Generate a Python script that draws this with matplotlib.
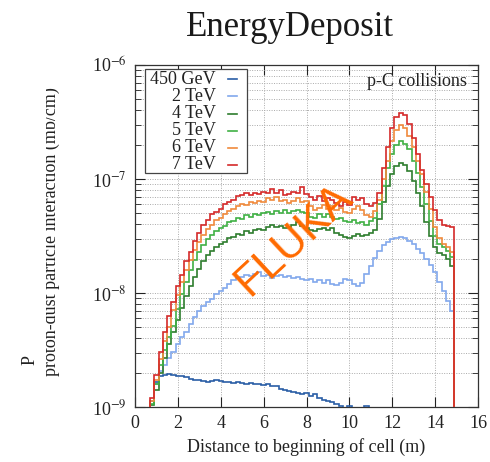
import numpy as np
import matplotlib
matplotlib.use("Agg")
import matplotlib.pyplot as plt
from matplotlib.patches import Rectangle
from matplotlib.lines import Line2D
from matplotlib.ticker import LogLocator, FixedLocator, NullFormatter

plt.rcParams["font.family"] = ["Liberation Serif", "DejaVu Serif"]
plt.rcParams["mathtext.fontset"] = "stix"

# Histogram binning along the cell (m)
bin_start = 0.7
bin_width = 0.2
n_bins = 71

beam_labels = ["450 GeV", "2 TeV", "4 TeV", "5 TeV", "6 TeV", "7 TeV"]
beam_colors = ["#2a5ea6", "#82a8ec", "#2e7d2e", "#3fb044", "#f08a3c", "#d42a2a"]

# log10 of interaction probability per bin
log_450gev = [
    -8.95, -8.78, -8.73, -8.72, -8.71, -8.72, -8.73, -8.73, -8.74, -8.75,
    -8.76, -8.76, -8.77, -8.78, -8.77, -8.76, -8.77, -8.78, -8.78, -8.79,
    -8.78, -8.79, -8.80, -8.79, -8.80, -8.80, -8.81, -8.80, -8.82, -8.82,
    -8.84, -8.85, -8.86, -8.87, -8.88, -8.89, -8.88, -8.90, -8.89, -8.92,
    -8.94, -8.95, -8.96, -8.97, -8.99, -9.01, -8.99, -9.02, -9.04, -9.01,
    -8.99, -9.10,
]
log_2tev = [
    -8.95, -8.80, -8.68, -8.63, -8.57, -8.52, -8.45, -8.39, -8.34, -8.27,
    -8.21, -8.16, -8.11, -8.08, -8.05, -8.01, -7.98, -7.96, -7.92, -7.89,
    -7.87, -7.86, -7.84, -7.85, -7.83, -7.82, -7.85, -7.84, -7.87, -7.85,
    -7.84, -7.86, -7.85, -7.87, -7.86, -7.88, -7.89, -7.88, -7.90, -7.89,
    -7.91, -7.89, -7.92, -7.93, -7.91, -7.88, -7.89, -7.92, -7.94, -7.91,
    -7.83, -7.76, -7.69, -7.63, -7.58, -7.55, -7.53, -7.52, -7.51, -7.52,
    -7.54, -7.57, -7.61, -7.65, -7.70, -7.75, -7.82, -7.90, -7.98, -8.07,
    -8.16,
]
log_4tev = [
    -8.98, -8.85, -8.70, -8.57, -8.45, -8.34, -8.24, -8.13, -8.03, -7.94,
    -7.86, -7.79, -7.72, -7.67, -7.63, -7.60, -7.57, -7.55, -7.52, -7.51,
    -7.48, -7.49, -7.46, -7.47, -7.45, -7.44, -7.45, -7.42, -7.40, -7.42,
    -7.41, -7.43, -7.42, -7.40, -7.38, -7.41, -7.43, -7.45, -7.46, -7.44,
    -7.43, -7.45, -7.43, -7.47, -7.49, -7.51, -7.52, -7.50, -7.48, -7.50,
    -7.49, -7.47, -7.45, -7.35, -7.20, -7.06, -6.96, -6.89, -6.86, -6.88,
    -6.93, -7.02, -7.12, -7.24, -7.38, -7.50, -7.60, -7.65, -7.67, -7.70,
    -7.76,
]
log_5tev = [
    -8.97, -8.80, -8.63, -8.50, -8.39, -8.29, -8.14, -8.01, -7.90, -7.80,
    -7.71, -7.64, -7.58, -7.53, -7.49, -7.46, -7.43, -7.41, -7.38, -7.37,
    -7.34, -7.35, -7.32, -7.33, -7.31, -7.32, -7.30, -7.29, -7.31, -7.28,
    -7.30, -7.27, -7.30, -7.28, -7.27, -7.29, -7.30, -7.33, -7.34, -7.31,
    -7.33, -7.31, -7.33, -7.35, -7.34, -7.37, -7.38, -7.36, -7.39, -7.38,
    -7.40, -7.37, -7.34, -7.22, -7.06, -6.90, -6.78, -6.70, -6.67, -6.69,
    -6.74, -6.84, -6.95, -7.07, -7.22, -7.37, -7.50, -7.57, -7.60, -7.63,
    -7.68,
]
log_6tev = [
    -8.95, -8.76, -8.58, -8.42, -8.30, -8.15, -8.02, -7.90, -7.80, -7.71,
    -7.62, -7.55, -7.49, -7.44, -7.40, -7.36, -7.34, -7.31, -7.28, -7.26,
    -7.24, -7.22, -7.23, -7.20, -7.21, -7.19, -7.20, -7.17, -7.18, -7.16,
    -7.19, -7.18, -7.21, -7.19, -7.17, -7.20, -7.19, -7.24, -7.27, -7.25,
    -7.23, -7.26, -7.24, -7.27, -7.25, -7.29, -7.30, -7.26, -7.24, -7.27,
    -7.32, -7.33, -7.28, -7.18, -7.00, -6.84, -6.67, -6.57, -6.53, -6.55,
    -6.62, -6.72, -6.84, -6.96, -7.11, -7.26, -7.42, -7.52, -7.57, -7.60,
    -7.64,
]
log_7tev = [
    -8.92, -8.72, -8.52, -8.34, -8.20, -8.08, -7.94, -7.84, -7.72, -7.64,
    -7.54, -7.47, -7.40, -7.36, -7.31, -7.29, -7.26, -7.22, -7.20, -7.18,
    -7.15, -7.14, -7.12, -7.14, -7.12, -7.13, -7.11, -7.12, -7.09, -7.12,
    -7.10, -7.14, -7.13, -7.11, -7.12, -7.07, -7.13, -7.16, -7.18, -7.15,
    -7.19, -7.17, -7.18, -7.21, -7.24, -7.20, -7.23, -7.16, -7.18, -7.17,
    -7.22, -7.24, -7.21, -7.12, -6.90, -6.72, -6.55, -6.46, -6.42, -6.44,
    -6.52, -6.64, -6.78, -6.92, -7.04, -7.16, -7.27, -7.36, -7.40, -7.41,
    -7.42,
]
series_logs = [log_450gev, log_2tev, log_4tev, log_5tev, log_6tev, log_7tev]

x_ticks = [0, 2, 4, 6, 8, 10, 12, 14, 16]
y_decades = [1e-9, 1e-8, 1e-7, 1e-6]

edges_all = np.round(bin_start + bin_width * np.arange(n_bins + 1), 3)

fig = plt.figure(figsize=(4.9, 4.62), dpi=100)
ax = fig.add_axes([135 / 490, 1 - 407 / 462, 343 / 490, 342 / 462])
ax.set_yscale("log")

for logs, color in zip(series_logs, beam_colors):
    vals = 10.0 ** np.asarray(logs)
    edges = edges_all[: len(vals) + 1]
    ax.stairs(vals, edges, baseline=1e-10, color=color, lw=1.2, zorder=3)

ax.set_xlim(0, 16)
ax.set_ylim(y_decades[0], y_decades[-1])
ax.xaxis.set_major_locator(FixedLocator(x_ticks))
ax.yaxis.set_major_locator(FixedLocator(y_decades))
ax.yaxis.set_minor_locator(LogLocator(base=10, subs=np.arange(2, 10)))
ax.yaxis.set_minor_formatter(NullFormatter())
ax.set_yticklabels([r"10$^{-%d}$" % int(-np.log10(v)) for v in y_decades])

ax.tick_params(which="both", direction="in", top=True, right=True,
               labelsize=13, colors="#222222")
ax.tick_params(which="major", length=7, width=0.8, pad=6)
ax.tick_params(which="minor", length=4, width=0.6)
for sp in ax.spines.values():
    sp.set_linewidth(0.9)
    sp.set_color("#333333")

ax.grid(True, which="major", axis="x", ls=(0, (1, 1.5)), color="#aaaaaa", lw=0.7)
ax.grid(True, which="both", axis="y", ls=(0, (1, 1.5)), color="#aaaaaa", lw=0.7)

ax.set_xlabel("Distance to beginning of cell (m)", fontsize=13, labelpad=4,
              color="#222222")

# legend box with right-aligned labels and sample lines on the right
ax.add_patch(Rectangle((0.029, 0.684), 0.298, 0.304, transform=ax.transAxes,
                       facecolor="white", edgecolor="#444444", lw=0.9, zorder=5))
for i, (lab, color) in enumerate(zip(beam_labels, beam_colors)):
    yy = 0.958 - i * 0.050
    ax.text(0.236, yy, lab, transform=ax.transAxes, ha="right", va="center",
            fontsize=13, color="#222222", zorder=6)
    ax.add_line(Line2D([0.270, 0.298], [yy, yy], transform=ax.transAxes,
                       color=color, lw=1.2, zorder=6))

ax.text(0.968, 0.951, "p-C collisions", transform=ax.transAxes, ha="right",
        va="center", fontsize=13, color="#222222", zorder=6)

ax.text(0.463, 0.488, "FLUKA", transform=ax.transAxes, ha="center",
        va="center", rotation=43, fontsize=32, color="#ff6a00",
        family="Liberation Sans", zorder=7)

fig.text(290 / 490, 1 - 27 / 462, "EnergyDeposit", ha="center", va="center",
         fontsize=25, color="#1a1a1a")

fig.text(30 / 490, 1 - 360 / 462, "P", rotation=90, ha="center", va="center",
         fontsize=13, color="#222222")
fig.text(51 / 490, 1 - 232 / 462, "proton-dust particle interaction (mb/cm)",
         rotation=90, ha="center", va="center", fontsize=13, color="#222222")
# the upper part of the long label is masked
fig.add_artist(Rectangle((38 / 490, 60 / 462), 8 / 490, 350 / 462,
                         transform=fig.transFigure, facecolor="white",
                         edgecolor="none", zorder=10))

fig.savefig("out.png", dpi=100)
